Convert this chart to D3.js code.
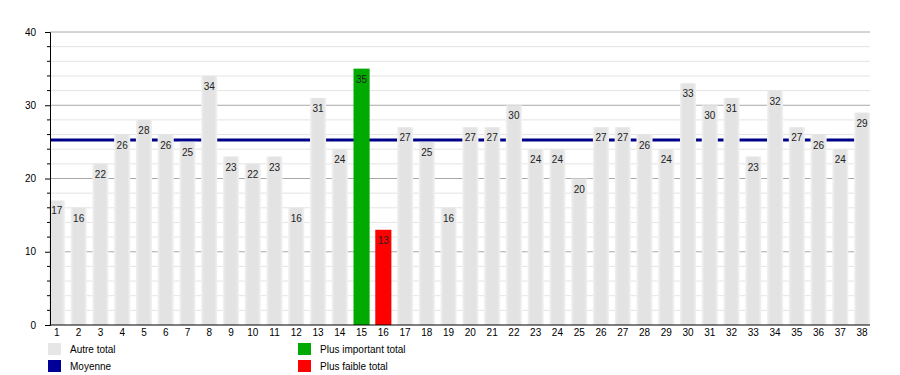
<!DOCTYPE html>
<html>
<head>
<meta charset="utf-8">
<script src="https://cdn.jsdelivr.net/npm/d3@7"></script>
<style>
  body { margin: 0; background: #fff; }
  svg { display: block; font-family: "Liberation Sans", Arial, sans-serif; }
</style>
</head>
<body>
<div id="chart"></div>
<script>
// data
const categories = d3.range(1, 39).map(String);
const totals = [17, 16, 22, 26, 28, 26, 25, 34, 23, 22, 23, 16, 31, 24, 35, 13, 27, 25, 16, 27,
                27, 30, 24, 24, 20, 27, 27, 26, 24, 33, 30, 31, 23, 32, 27, 26, 24, 29];
const yTicks = [0, 10, 20, 30, 40];
const legendLabels = ["Autre total", "Moyenne", "Plus important total", "Plus faible total"];

const width = 900, height = 375;
const margin = {top: 32, right: 30, bottom: 50, left: 50};

const svg = d3.select("#chart").append("svg")
  .attr("width", width)
  .attr("height", height);

const defs = svg.append("defs");
const grad = defs.append("linearGradient").attr("id", "barGrad")
  .attr("x1", "0%").attr("x2", "100%").attr("y1", "0%").attr("y2", "0%");
grad.append("stop").attr("offset", "0%").attr("stop-color", "#f2f2f2");
grad.append("stop").attr("offset", "18%").attr("stop-color", "#e3e3e3");
grad.append("stop").attr("offset", "82%").attr("stop-color", "#e3e3e3");
grad.append("stop").attr("offset", "100%").attr("stop-color", "#f2f2f2");

const x = d3.scaleBand()
  .domain(categories)
  .range([46, 873])
  .paddingInner(0.26)
  .paddingOuter(0.13);

const y = d3.scaleLinear()
  .domain([0, 40])
  .range([height - margin.bottom, margin.top]);

const plotRight = 870;

// grid: minor every 2, major every 10
const minor = d3.range(2, 41, 2).filter(v => v % 10 !== 0);
svg.append("g").selectAll("line")
  .data(minor)
  .join("line")
  .attr("x1", margin.left).attr("x2", plotRight)
  .attr("y1", d => y(d)).attr("y2", d => y(d))
  .attr("stroke", "#e4e4e4");

svg.append("g").selectAll("line")
  .data(yTicks.filter(v => v > 0))
  .join("line")
  .attr("x1", margin.left).attr("x2", plotRight)
  .attr("y1", d => y(d)).attr("y2", d => y(d))
  .attr("stroke", "#a8a8a8");

// average line (behind bars)
const avg = d3.mean(totals);
svg.append("line")
  .attr("x1", margin.left).attr("x2", plotRight)
  .attr("y1", y(avg)).attr("y2", y(avg))
  .attr("stroke", "#000088")
  .attr("stroke-width", 3);

const maxV = d3.max(totals), minV = d3.min(totals);
function barColor(v) {
  if (v === maxV) return "#00aa00";
  if (v === minV) return "#ff0000";
  return "url(#barGrad)";
}

const bars = svg.append("g").selectAll("g")
  .data(totals)
  .join("g");

bars.append("rect")
  .attr("x", (d, i) => x(categories[i]))
  .attr("y", d => y(d))
  .attr("width", x.bandwidth())
  .attr("height", d => y(0) - y(d))
  .attr("fill", barColor);

bars.append("text")
  .attr("x", (d, i) => x(categories[i]) + x.bandwidth() / 2)
  .attr("y", d => y(d) + 14)
  .attr("text-anchor", "middle")
  .attr("font-size", 10)
  .attr("fill", "#222")
  .text(d => d);

// y axis
const yAxis = svg.append("g")
  .attr("transform", `translate(${margin.left},0)`)
  .call(d3.axisLeft(y).tickValues(yTicks).tickSize(5).tickPadding(9))
  .call(g => g.select(".domain").attr("stroke", "#000"));
yAxis.selectAll("text").attr("font-size", 10).attr("fill", "#000").attr("font-family", null);

svg.append("g").selectAll("line")
  .data(minor)
  .join("line")
  .attr("x1", margin.left - 3).attr("x2", margin.left)
  .attr("y1", d => y(d)).attr("y2", d => y(d))
  .attr("stroke", "#000");

// x axis
svg.append("line")
  .attr("x1", margin.left).attr("x2", plotRight)
  .attr("y1", y(0)).attr("y2", y(0))
  .attr("stroke", "#000");

svg.append("g").selectAll("text")
  .data(categories)
  .join("text")
  .attr("x", d => x(d) + x.bandwidth() / 2)
  .attr("y", y(0) + 11)
  .attr("text-anchor", "middle")
  .attr("font-size", 10)
  .attr("fill", "#000")
  .text(d => d);

// legend
const legendColors = ["url(#barGrad)", "#000099", "#00aa00", "#ff0000"];
const legendPos = [[48, 343], [48, 360], [298, 343], [298, 360]];
const legend = svg.append("g").selectAll("g")
  .data(legendLabels)
  .join("g")
  .attr("transform", (d, i) => `translate(${legendPos[i][0]},${legendPos[i][1]})`);
legend.append("rect")
  .attr("width", 13).attr("height", 12)
  .attr("fill", (d, i) => i === 0 ? "#e6e6e6" : legendColors[i]);
legend.append("text")
  .attr("x", 22).attr("y", 10)
  .attr("font-size", 10)
  .attr("fill", "#000")
  .text(d => d);
</script>
</body>
</html>
